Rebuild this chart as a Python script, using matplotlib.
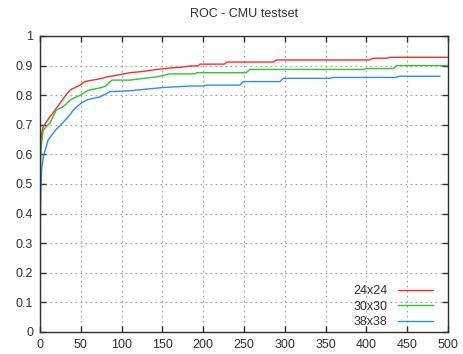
import matplotlib
matplotlib.use('Agg')
import matplotlib.pyplot as plt
from matplotlib.lines import Line2D

# false positives (x) vs detection rate (y)
x_24 = [0, 0, 1, 2, 4, 8, 12, 16, 20, 25, 29, 33, 37, 43, 49, 55, 62, 69, 76,
        82, 95, 110, 125, 143, 160, 175, 184, 194, 196, 226, 229, 286, 290,
        404, 408, 425, 429, 500]
y_24 = [0.3, 0.564, 0.64, 0.67, 0.694, 0.71, 0.727, 0.74, 0.756, 0.775, 0.79,
        0.805, 0.818, 0.826, 0.834, 0.846, 0.85, 0.853, 0.857, 0.862, 0.868,
        0.876, 0.88, 0.887, 0.892, 0.895, 0.899, 0.899, 0.905, 0.905, 0.912,
        0.912, 0.919, 0.919, 0.925, 0.925, 0.928, 0.928]

x_30 = [0, 0, 1, 2, 3, 4, 8, 12, 16, 20, 27, 32, 37, 43, 49, 55, 61, 76, 80,
        88, 110, 125, 143, 159, 190, 192, 253, 257, 396, 400, 433, 437, 500]
y_30 = [0.4, 0.45, 0.6, 0.64, 0.66, 0.682, 0.695, 0.705, 0.728, 0.75, 0.759,
        0.77, 0.784, 0.792, 0.80, 0.81, 0.818, 0.826, 0.83, 0.851, 0.851,
        0.856, 0.862, 0.872, 0.872, 0.876, 0.876, 0.887, 0.887, 0.89, 0.89,
        0.90, 0.90]

x_38 = [0, 1, 2, 3, 4, 7, 10, 13, 16, 20, 25, 29, 33, 37, 41, 45, 49, 57, 74,
        86, 110, 151, 184, 200, 204, 245, 249, 294, 298, 355, 359, 436, 440,
        490]
y_38 = [0.317, 0.457, 0.55, 0.57, 0.592, 0.62, 0.649, 0.66, 0.671, 0.685,
        0.699, 0.71, 0.722, 0.735, 0.75, 0.76, 0.77, 0.784, 0.795, 0.812, 0.815,
        0.826, 0.831, 0.831, 0.834, 0.834, 0.846, 0.846, 0.857, 0.857, 0.86,
        0.86, 0.864, 0.864]

labels = ['24x24', '30x30', '38x38']
colours = ['#ff2a2a', '#2ec82e', '#2a8cff']

plt.rcParams['font.family'] = ['Liberation Sans', 'DejaVu Sans']

fig = plt.figure(figsize=(4.63, 3.54), dpi=100)
ax = fig.add_axes([40 / 463, 22 / 354, 408 / 463, 296 / 354])

for xs, ys, c in zip([x_24, x_30, x_38], [y_24, y_30, y_38], colours):
    ax.plot(xs, ys, color=c, lw=1.0)

ax.set_xlim(0, 500)
ax.set_ylim(0, 1)
ax.set_xticks(range(0, 501, 50))
ax.set_yticks([i / 10 for i in range(11)])
ax.set_yticklabels(['0', '0.1', '0.2', '0.3', '0.4', '0.5', '0.6', '0.7',
                    '0.8', '0.9', '1'])
ax.grid(True, color='#a0a0a0', linestyle=(0, (1.5, 3)), lw=0.8)
ax.tick_params(direction='in', top=True, right=True, length=4, width=1,
               labelsize=9, colors='#303030', pad=5)
for s in ax.spines.values():
    s.set_color('#303030')
    s.set_linewidth(1.0)

ax.set_title('ROC - CMU testset', fontsize=9, color='#303030', pad=14)

handles = [Line2D([], [], color=c, lw=1.0) for c in colours]
leg = ax.legend(handles, labels, loc='lower right', frameon=False,
                markerfirst=False, fontsize=9, handlelength=2.8,
                handletextpad=0.8, labelspacing=0.28,
                bbox_to_anchor=(0.99, -0.025))
for t in leg.get_texts():
    t.set_color('#303030')

fig.savefig('out.png', dpi=100)
